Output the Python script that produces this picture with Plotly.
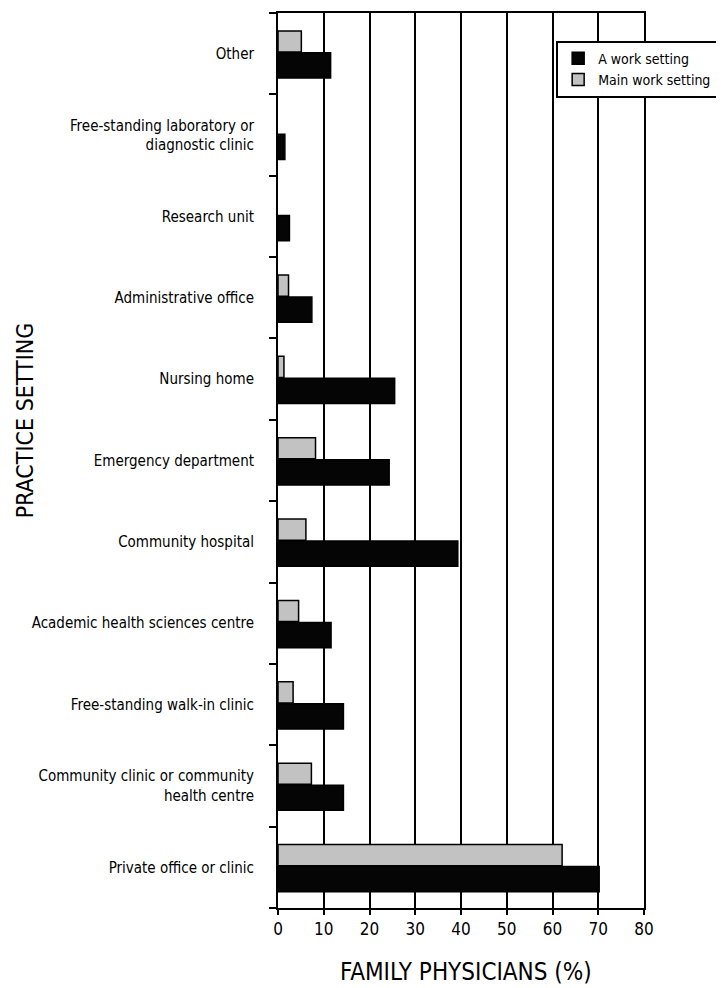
import plotly.graph_objects as go

categories = [
    "Private office or clinic",
    "Community clinic or community<br>health centre",
    "Free-standing walk-in clinic",
    "Academic health sciences centre",
    "Community hospital",
    "Emergency department",
    "Nursing home",
    "Administrative office",
    "Research unit",
    "Free-standing laboratory or<br>diagnostic clinic",
    "Other",
]
a_work_setting = [70.2, 14.3, 14.3, 11.6, 39.3, 24.3, 25.5, 7.4, 2.5, 1.5, 11.5]
main_work_setting = [62.1, 7.3, 3.3, 4.5, 6.1, 8.2, 1.3, 2.3, None, None, 5.1]
x_ticks = [0, 10, 20, 30, 40, 50, 60, 70, 80]

FONT = "Liberation Sans Narrow, DejaVu Sans Condensed, Arial Narrow, sans-serif"

fig = go.Figure()
fig.add_trace(go.Bar(
    y=categories, x=a_work_setting, orientation="h", name="A work setting",
    marker=dict(color="#050505", line=dict(color="#000000", width=1.5)),
    width=0.31, offset=-0.30,
))
fig.add_trace(go.Bar(
    y=categories, x=main_work_setting, orientation="h", name="Main work setting",
    marker=dict(color="#c2c2c2", line=dict(color="#000000", width=1.5)),
    width=0.26, offset=0.02,
))

fig.update_layout(
    width=716, height=980,
    margin=dict(l=270, r=80, t=5, b=80, autoexpand=False),
    paper_bgcolor="white", plot_bgcolor="white",
    barmode="overlay",
    font=dict(family=FONT, color="black", size=15),
    showlegend=True,
    legend=dict(
        x=0.76, y=0.969, xanchor="left", yanchor="top",
        bgcolor="white", bordercolor="black", borderwidth=2,
        font=dict(size=14, family=FONT), traceorder="normal",
        itemwidth=30, tracegroupgap=0,
    ),
    xaxis=dict(
        range=[0, 80], tickvals=x_ticks, ticktext=[str(v) for v in x_ticks],
        showgrid=True, gridcolor="black", gridwidth=1.8,
        showline=True, linecolor="black", linewidth=2, mirror=True,
        ticks="outside", ticklen=5, tickwidth=2, tickcolor="black",
        tickfont=dict(size=17, family=FONT),
        zeroline=False, automargin=False,
    ),
    yaxis=dict(
        type="category", categoryorder="array", categoryarray=categories,
        range=[-0.5, len(categories) - 0.5],
        showgrid=False, showline=True, linecolor="black", linewidth=2, mirror=True,
        ticks="outside", tickson="boundaries", ticklen=7, tickwidth=2, tickcolor="black",
        tickfont=dict(size=15, family=FONT),
        ticklabelstandoff=19, automargin=False,
    ),
    annotations=[
        dict(
            text="PRACTICE SETTING", textangle=-90, showarrow=False,
            xref="paper", yref="paper", x=-0.691, y=0.545, xanchor="center", yanchor="middle",
            font=dict(size=23, family=FONT, color="black"),
        ),
        dict(
            text="FAMILY PHYSICIANS (%)", showarrow=False,
            xref="paper", yref="paper", x=0.514, y=-0.0715, xanchor="center", yanchor="middle",
            font=dict(size=24, family=FONT, color="black"),
        ),
    ],
)

fig.write_html("out.html")
